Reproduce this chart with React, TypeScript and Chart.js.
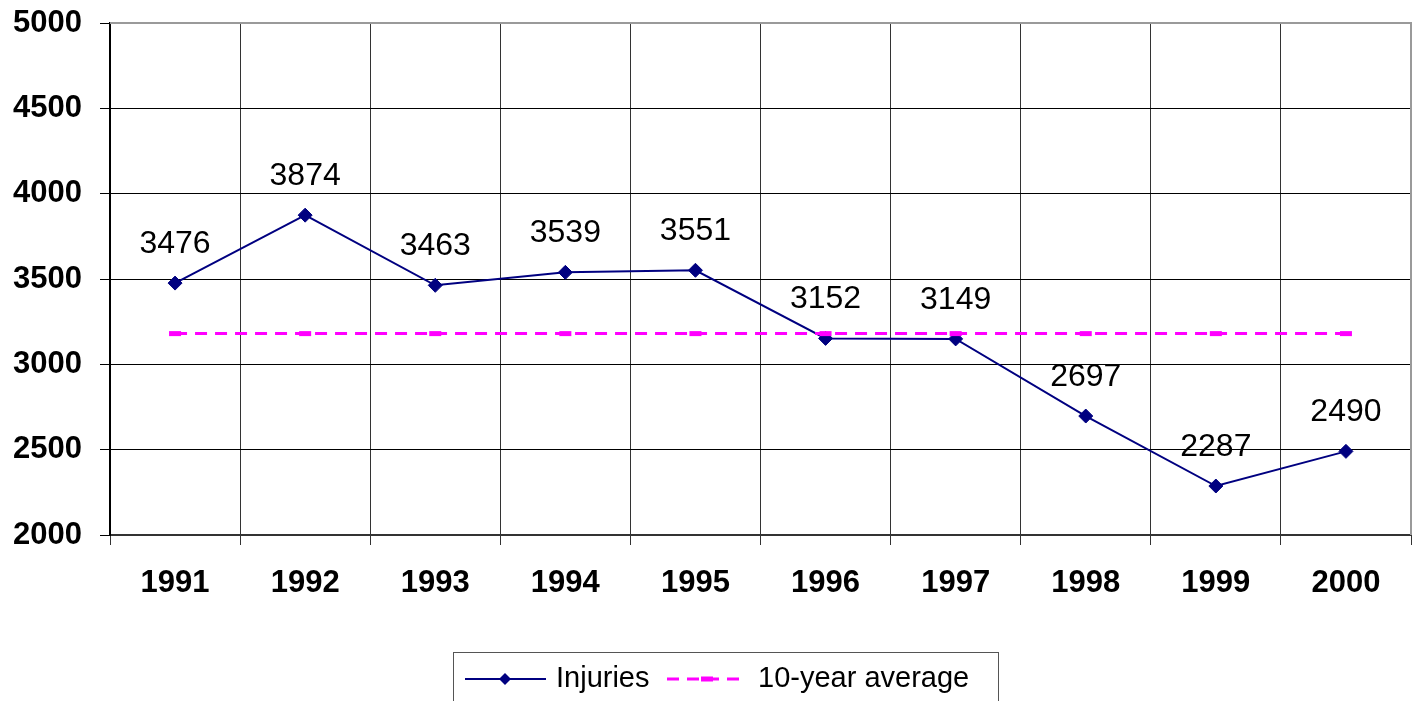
import React, { useEffect, useRef } from "react";
import { Chart, registerables } from "chart.js";

Chart.register(...registerables);

const years: string[] = ["1991", "1992", "1993", "1994", "1995", "1996", "1997", "1998", "1999", "2000"];
const injuries: number[] = [3476, 3874, 3463, 3539, 3551, 3152, 3149, 2697, 2287, 2490];
const averageValue = 3180;
const average: number[] = years.map(() => averageValue);
const seriesNames: string[] = ["Injuries", "10-year average"];
const yMin = 2000;
const yMax = 5000;
const yStep = 500;

const FONT = '"Liberation Sans", Arial, sans-serif';
const NAVY = "#000080";
const MAGENTA = "#FF00FF";

const labelsPlugin = {
  id: "valueLabels",
  afterDatasetsDraw(chart: any) {
    const ctx = chart.ctx;
    const meta = chart.getDatasetMeta(1);
    ctx.save();
    ctx.font = `32px ${FONT}`;
    ctx.fillStyle = "#000";
    ctx.textAlign = "center";
    ctx.textBaseline = "middle";
    meta.data.forEach((pt: any, i: number) => {
      ctx.fillText(String(injuries[i]), pt.x, pt.y - 39);
    });
    ctx.restore();
  },
};

const borderPlugin = {
  id: "frame",
  afterDraw(chart: any) {
    const { ctx, chartArea } = chart;
    ctx.save();
    ctx.strokeStyle = "#9a9a9a";
    ctx.lineWidth = 2;
    ctx.beginPath();
    ctx.moveTo(chartArea.left, chartArea.top);
    ctx.lineTo(chartArea.right, chartArea.top);
    ctx.lineTo(chartArea.right, chartArea.bottom);
    ctx.stroke();
    ctx.restore();
  },
};

const legendPlugin = {
  id: "customLegend",
  afterDraw(chart: any) {
    const ctx = chart.ctx;
    ctx.save();
    ctx.strokeStyle = "#555";
    ctx.lineWidth = 1;
    ctx.strokeRect(453.5, 652.5, 545, 60);
    const ly = 679;
    ctx.strokeStyle = NAVY;
    ctx.lineWidth = 2;
    ctx.beginPath();
    ctx.moveTo(465, ly);
    ctx.lineTo(546, ly);
    ctx.stroke();
    ctx.fillStyle = NAVY;
    ctx.beginPath();
    ctx.moveTo(505, ly - 6);
    ctx.lineTo(511, ly);
    ctx.lineTo(505, ly + 6);
    ctx.lineTo(499, ly);
    ctx.closePath();
    ctx.fill();
    ctx.strokeStyle = MAGENTA;
    ctx.lineWidth = 3;
    ctx.setLineDash([12, 8]);
    ctx.beginPath();
    ctx.moveTo(667, ly);
    ctx.lineTo(747, ly);
    ctx.stroke();
    ctx.setLineDash([]);
    ctx.fillStyle = MAGENTA;
    ctx.fillRect(701, ly - 2.5, 12, 5);
    ctx.fillStyle = "#000";
    ctx.font = `29px ${FONT}`;
    ctx.textAlign = "left";
    ctx.textBaseline = "alphabetic";
    ctx.fillText(seriesNames[0], 556, 687);
    ctx.fillText(seriesNames[1], 758, 687);
    ctx.restore();
  },
};

export default function App() {
  const canvasRef = useRef<HTMLCanvasElement | null>(null);

  useEffect(() => {
    if (!canvasRef.current) return;
    const chart = new Chart(canvasRef.current, {
      type: "line",
      data: {
        labels: years,
        datasets: [
          {
            label: seriesNames[1],
            data: average,
            borderColor: MAGENTA,
            backgroundColor: MAGENTA,
            borderWidth: 3,
            borderDash: [12, 8],
            pointStyle: "line",
            pointRadius: 6,
            pointBorderWidth: 5,
            pointBorderColor: MAGENTA,
            fill: false,
            tension: 0,
            order: 1,
          },
          {
            label: seriesNames[0],
            data: injuries,
            borderColor: NAVY,
            backgroundColor: NAVY,
            borderWidth: 2,
            pointStyle: "rectRot",
            pointRadius: 7,
            pointBorderWidth: 1,
            pointBackgroundColor: NAVY,
            pointBorderColor: NAVY,
            fill: false,
            tension: 0,
            order: 2,
          },
        ],
      },
      options: {
        animation: false,
        responsive: true,
        maintainAspectRatio: false,
        layout: { padding: { top: 23, right: 6, left: 0, bottom: 0 } },
        plugins: {
          legend: { display: false },
          tooltip: { enabled: false },
        },
        scales: {
          x: {
            offset: true,
            grid: {
              offset: true,
              color: "#333",
              lineWidth: 1,
              tickLength: 10,
              drawTicks: true,
            },
            border: { color: "#333", width: 2 },
            ticks: {
              color: "#000",
              font: { family: FONT, size: 31, weight: "bold" },
              padding: 20,
              maxRotation: 0,
            },
            afterFit(scale: any) {
              scale.height = 166;
              scale.paddingLeft = 0;
              scale.paddingRight = 0;
            },
          },
          y: {
            min: yMin,
            max: yMax,
            grid: { color: "#000", lineWidth: 1, tickLength: 10 },
            border: { color: "#000", width: 2 },
            ticks: {
              stepSize: yStep,
              color: "#000",
              font: { family: FONT, size: 31, weight: "bold" },
              padding: 18,
              callback: (v: any) => String(v),
            },
            afterFit(scale: any) {
              scale.width = 110;
              scale.paddingTop = 0;
              scale.paddingBottom = 0;
            },
          },
        },
      },
      plugins: [labelsPlugin, borderPlugin, legendPlugin],
    });
    return () => chart.destroy();
  }, []);

  return (
    <div style={{ position: "fixed", left: 0, top: 0, width: 1417, height: 701, overflow: "hidden", background: "#fff" }}>
      <div style={{ position: "relative", width: 1422, height: 701 }}>
        <canvas ref={canvasRef} />
      </div>
    </div>
  );
}
